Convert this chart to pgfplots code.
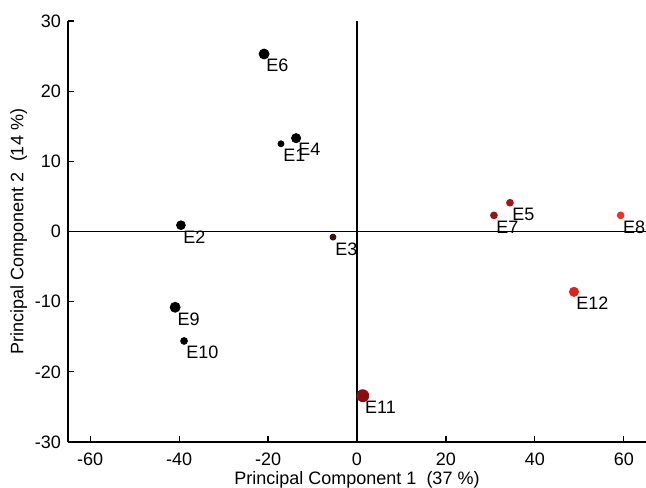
\documentclass[border=0pt]{standalone}
\usepackage{fontspec}
\setmainfont{Liberation Sans}
\usepackage{pgfplots}
\pgfplotsset{compat=1.18}

\definecolor{c3}{HTML}{4A0A0A}
\definecolor{c11}{HTML}{8B0C0C}
\definecolor{c7}{HTML}{9A1410}
\definecolor{c5}{HTML}{A01812}
\definecolor{c12}{HTML}{E0231A}
\definecolor{c8}{HTML}{EE3322}

\newcommand{\lbl}{\fontsize{9}{10.5}\selectfont}
% x, y, mark radius, colour, label
\newcommand{\obs}[5]{%
  \addplot[only marks, mark=*, mark size=#3, color=#4, mark options={draw=#4, fill=#4}]
    coordinates {(#1,#2)}
    node[anchor=north west, inner sep=0pt, font=\lbl, text=black, xshift=1pt, yshift=-2.5pt] {#5};}

\begin{document}
\begin{tikzpicture}
  \begin{axis}[
    name=ax,
    scale only axis,
    width=289pt, height=210.5pt,
    xmin=-65, xmax=65,
    ymin=-30, ymax=30,
    axis x line*=bottom,
    axis y line*=left,
    axis line style={-, line width=0.9pt},
    xtick={-60,-40,...,60},
    ytick={-30,-20,...,30},
    tick align=inside,
    major tick length=3pt,
    tick style={line width=0.6pt, black},
    ticklabel style={font=\lbl},
    xticklabel style={yshift=-2pt},
    /pgf/number format/assume math mode=true,
    xlabel={Principal Component 1\ \ (37 \%)},
    ylabel={Principal Component 2\ \ (14 \%)},
    label style={font=\lbl},
    xlabel style={yshift=4pt},
    ylabel style={yshift=-3pt},
    clip=false,
  ]
    % zero lines
    \addplot[black, line width=0.9pt] coordinates {(-65,0) (65,0)};
    \addplot[black, line width=0.9pt] coordinates {(0,-30) (0,30)};

    \obs{-20.9}{25.3}{2.5}{black}{E6}
    \obs{-17.1}{12.5}{1.5}{black}{E1}
    \obs{-13.7}{13.3}{2.3}{black}{E4}
    \obs{-39.6}{0.9}{2.2}{black}{E2}
    \obs{-40.9}{-10.8}{2.5}{black}{E9}
    \obs{-38.9}{-15.6}{1.7}{black}{E10}
    \obs{-5.4}{-0.8}{1.5}{c3}{E3}
    \obs{1.3}{-23.4}{3.0}{c11}{E11}
    \obs{30.8}{2.3}{1.7}{c7}{E7}
    \obs{34.4}{4.1}{1.7}{c5}{E5}
    \obs{59.3}{2.3}{1.7}{c8}{E8}
    \obs{48.8}{-8.6}{2.3}{c12}{E12}
  \end{axis}
  \pgfresetboundingbox
  \path ([shift={(-34pt,-22.5pt)}]ax.south west) rectangle ([shift={(0pt,10.5pt)}]ax.north east);
\end{tikzpicture}
\end{document}
